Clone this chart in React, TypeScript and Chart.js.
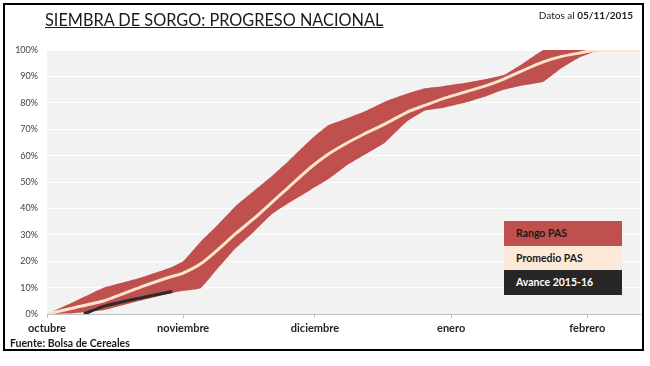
import React, { useEffect, useRef } from "react";
import { Chart, registerables } from "chart.js";

Chart.register(...registerables);

// days since 1 October
const days = [0, 6, 13, 21, 28, 31, 35, 39, 43, 47, 51, 55, 60, 64, 68, 72, 77, 82, 86, 90, 95, 100, 104, 108, 113, 117, 121, 125, 130, 135];
const rangoMax = [0, 4.5, 10, 13.6, 17.5, 20, 27.5, 34, 41, 46.5, 52, 58, 66, 71.5, 74, 76.5, 80.5, 83.5, 85.5, 86.3, 87.5, 89, 90.5, 94.5, 100, 100, 100, 100, 100, 100];
const rangoMin = [0, 0.3, 1.5, 5, 7.8, 8.8, 9.8, 17.5, 25, 31, 37.5, 42, 47, 51, 56, 60, 65, 73, 77, 78, 80, 82.5, 85, 86.5, 88, 93, 97, 99.5, 100, 100];
const promedio = [0, 2.3, 5, 10, 14, 15.5, 19, 24.5, 30.5, 36, 42, 48, 55.5, 60.5, 64.5, 68, 72, 76.5, 79, 81.5, 84, 86.5, 89, 92, 95.5, 97.5, 98.8, 100, 100, 100];
const avanceDays = [8.4, 13, 21, 28.5];
const avance = [0, 3, 6, 8.5];
const monthTicks = [0, 31, 61, 92, 123];
const monthLabels = ["octubre", "noviembre", "diciembre", "enero", "febrero"];
const yTicks = [0, 10, 20, 30, 40, 50, 60, 70, 80, 90, 100];

const FONT = "Lato, 'Open Sans', sans-serif";

export default function App() {
  const ref = useRef<HTMLCanvasElement>(null);
  useEffect(() => {
    const bgPlugin = {
      id: "plotBg",
      beforeDraw(chart: any) {
        const { ctx, chartArea } = chart;
        ctx.save();
        ctx.fillStyle = "#f2f2f2";
        ctx.fillRect(chartArea.left, chartArea.top, chartArea.right - chartArea.left, chartArea.bottom - chartArea.top);
        ctx.restore();
      },
    };
    const chart = new Chart(ref.current!, {
      type: "line",
      data: {
        datasets: [
          {
            label: "Avance 2015-16",
            data: avanceDays.map((d, i) => ({ x: d, y: avance[i] })),
            borderColor: "#2b2b2b",
            borderWidth: 3,
            pointRadius: 0,
            fill: false,
            tension: 0.2,
            order: 0,
          },
          {
            label: "Promedio PAS",
            data: days.map((d, i) => ({ x: d, y: promedio[i] })),
            borderColor: "#fbe4cc",
            borderWidth: 3,
            pointRadius: 0,
            fill: false,
            tension: 0.2,
            order: 1,
          },
          {
            label: "Rango PAS max",
            data: days.map((d, i) => ({ x: d, y: rangoMax[i] })),
            borderWidth: 0,
            borderColor: "rgba(0,0,0,0)",
            backgroundColor: "#c0504d",
            pointRadius: 0,
            fill: "+1",
            tension: 0.1,
            order: 2,
          },
          {
            label: "Rango PAS min",
            data: days.map((d, i) => ({ x: d, y: rangoMin[i] })),
            borderWidth: 0,
            borderColor: "rgba(0,0,0,0)",
            pointRadius: 0,
            fill: false,
            tension: 0.1,
            order: 3,
          },
        ],
      },
      options: {
        animation: false,
        responsive: false,
        maintainAspectRatio: false,
        layout: { padding: { left: 0, right: 10, top: 50, bottom: 30 } },
        plugins: { legend: { display: false }, tooltip: { enabled: false } },
        scales: {
          x: {
            type: "linear",
            min: 0,
            max: 135,
            afterBuildTicks: (scale: any) => {
              scale.ticks = monthTicks.map((v) => ({ value: v }));
            },
            afterFit: (scale: any) => {
              scale.height = 22;
            },
            ticks: {
              autoSkip: false,
              maxRotation: 0,
              padding: 4,
              color: "#262626",
              font: { family: FONT, size: 11, weight: "bold" },
              callback: (v: any) => {
                const i = monthTicks.indexOf(Number(v));
                return i >= 0 ? monthLabels[i] : "";
              },
            },
            grid: { drawOnChartArea: false, color: "#bfbfbf", tickLength: 4 },
            border: { color: "#bfbfbf" },
          },
          y: {
            min: 0,
            max: 100,
            afterBuildTicks: (scale: any) => {
              scale.ticks = yTicks.map((v) => ({ value: v }));
            },
            afterFit: (scale: any) => {
              scale.width = 47;
            },
            ticks: {
              padding: 9,
              color: "#404040",
              font: { family: FONT, size: 9 },
              callback: (v: any) => v + "%",
            },
            grid: { color: "#ffffff", lineWidth: 1, drawTicks: false },
            border: { display: false },
          },
        },
      },
      plugins: [bgPlugin],
    } as any);
    return () => chart.destroy();
  }, []);

  const legendBox = (bg: string, color: string, text: string) => (
    <div
      style={{
        height: 24.5,
        background: bg,
        color,
        fontFamily: FONT,
        fontWeight: "bold",
        fontSize: 10.5,
        lineHeight: "24.5px",
        paddingLeft: 12,
        boxSizing: "border-box",
      }}
    >
      {text}
    </div>
  );

  return (
    <div style={{ position: "absolute", left: 0, top: 0, width: 650, height: 366, background: "#ffffff", overflow: "hidden" }}>
      <canvas ref={ref} width={650} height={366} style={{ position: "absolute", left: 0, top: 0, width: 650, height: 366 }} />
      <div
        style={{
          position: "absolute",
          left: 3,
          top: 3,
          width: 641,
          height: 348,
          border: "2.5px solid #000",
          boxSizing: "border-box",
          pointerEvents: "none",
        }}
      />
      <div
        style={{
          position: "absolute",
          left: 45,
          top: 8,
          fontFamily: FONT,
          fontSize: 18,
          color: "#1a1a1a",
          textDecoration: "underline",
          whiteSpace: "nowrap",
          transform: "scaleX(0.905)",
          transformOrigin: "left top",
        }}
      >
        SIEMBRA DE SORGO: PROGRESO NACIONAL
      </div>
      <div
        style={{
          position: "absolute",
          right: 17,
          top: 9,
          fontFamily: FONT,
          fontSize: 10,
          color: "#1a1a1a",
          whiteSpace: "nowrap",
        }}
      >
        Datos al <b>05/11/2015</b>
      </div>
      <div
        style={{
          position: "absolute",
          left: 10,
          top: 337,
          fontFamily: FONT,
          fontSize: 10.5,
          fontWeight: "bold",
          color: "#1a1a1a",
          whiteSpace: "nowrap",
        }}
      >
        Fuente: Bolsa de Cereales
      </div>
      <div style={{ position: "absolute", left: 504, top: 221, width: 118 }}>
        {legendBox("#c0504d", "#1a1a1a", "Rango PAS")}
        {legendBox("#fde9d9", "#1a1a1a", "Promedio PAS")}
        {legendBox("#262626", "#ffffff", "Avance 2015-16")}
      </div>
    </div>
  );
}
